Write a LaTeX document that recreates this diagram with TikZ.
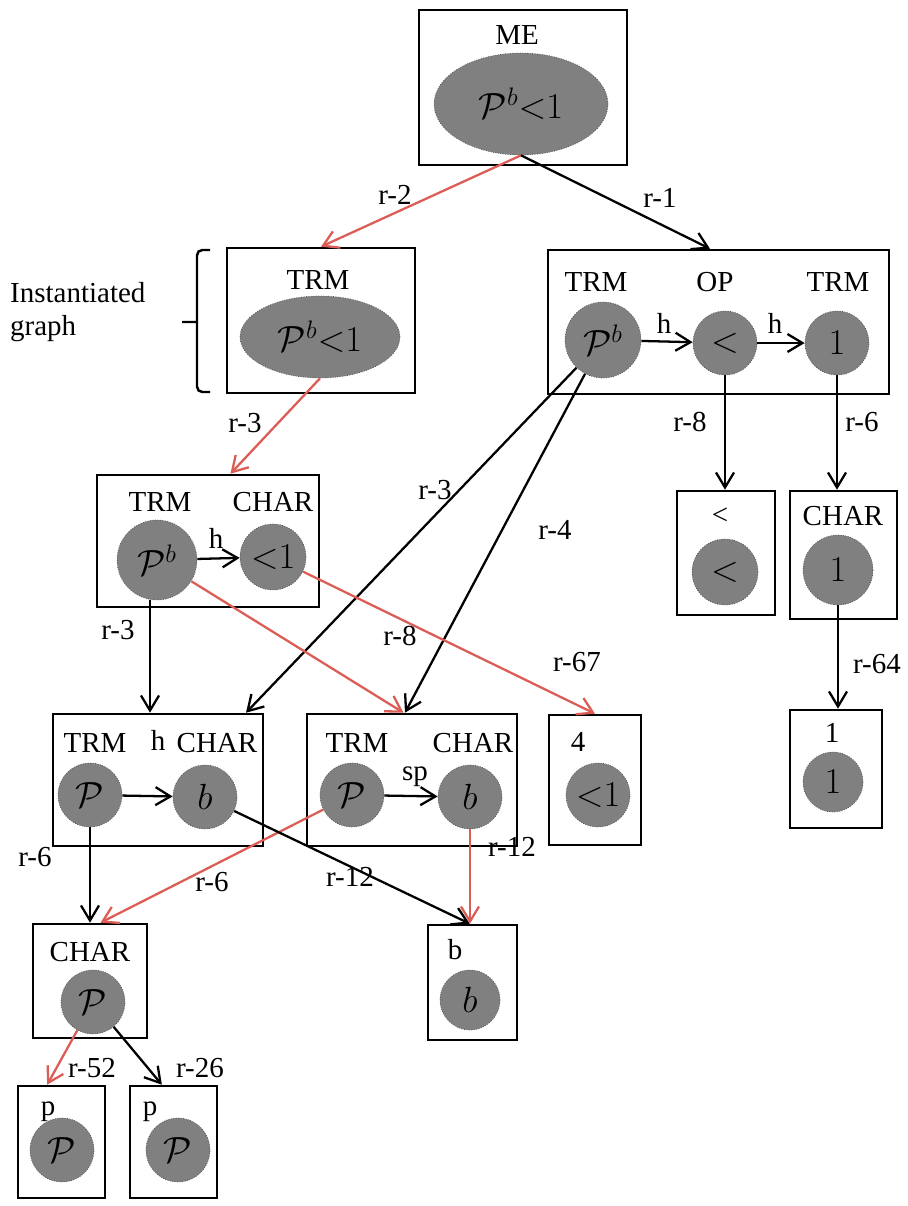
\documentclass[tikz,border=0pt]{standalone}
\usepackage{fontspec}
\setmainfont{Liberation Serif}
\usetikzlibrary{arrows.meta,calc,shapes.geometric}
\definecolor{relred}{RGB}{220,92,86}
\tikzset{
  gbox/.style={draw, line width=1.5pt, inner sep=0pt},
  sym/.style={circle, fill=gray, draw=black!70, densely dotted, inner sep=0pt,
    font=\huge},
  symell/.style={sym, ellipse},
  rel/.style={-{Straight Barb[length=3mm,width=3.6mm]}, line width=1.3pt},
  relr/.style={rel, draw=relred},
  lab/.style={font=\fontsize{16.5}{19}\selectfont}
}
\begin{document}
\begin{tikzpicture}[x=0.02cm, y=-0.02cm, lab]
  \useasboundingbox (0,0) rectangle (908,1206);
  % top level
  \node[gbox, minimum width=4.16cm, minimum height=3.1cm] (me) at (523,87.5) {};
  \node (meL) at (517,35) {ME};
  \node[symell, minimum width=3.48cm, minimum height=2.04cm] (meS) at (521,104)
    {$\mathcal{P}^{b}{<}1$};
  % instantiated graph
  \node[gbox, minimum width=3.76cm, minimum height=2.9cm] (trmI) at (321,320.5) {};
  \node (trmIL) at (318,280) {TRM};
  \node[symell, minimum width=3.2cm, minimum height=1.64cm] (trmIS) at (320,337)
    {$\mathcal{P}^{b}{<}1$};
  \node[align=left, anchor=west] (inst) at (4,312) {Instantiated\\graph};
  \draw[line width=1.4pt, rounded corners=3pt] (210,250) -- (197,250) -- (197,392)
    -- (210,392) (197,322) -- (182,322);
  % right split
  \node[gbox, minimum width=6.82cm, minimum height=2.88cm] (trmR) at (718.5,322) {};
  \node (trmRL1) at (596,282) {TRM};
  \node (trmRL2) at (715,282) {OP};
  \node (trmRL3) at (838,282) {TRM};
  \node[sym, minimum size=1.52cm] (trmRa) at (603,340) {$\mathcal{P}^{b}$};
  \node[sym, minimum size=1.28cm] (op) at (725,343) {$<$};
  \node[sym, minimum size=1.28cm] (trmRb) at (837,343) {$1$};
  \draw[rel] (trmRa) -- (op);
  \draw[rel] (op) -- (trmRb);
  \node (hA) at (664,323) {h};
  \node (hB) at (775,323) {h};
  % level three
  \node[gbox, minimum width=4.44cm, minimum height=2.64cm] (lvl3) at (208,541) {};
  \node (lvl3L1) at (160,502) {TRM};
  \node (lvl3L2) at (273,502) {CHAR};
  \node[sym, minimum size=1.6cm] (lvl3a) at (157,560) {$\mathcal{P}^{b}$};
  \node[sym, minimum size=1.32cm] (lvl3b) at (273,557) {${<}1$};
  \draw[rel] (lvl3a) -- (lvl3b);
  \node (hC) at (216,538) {h};
  \node[gbox, minimum width=1.96cm, minimum height=2.48cm] (ltB) at (726,553) {};
  \node (ltL) at (720,516) {<};
  \node[sym, minimum size=1.32cm] (ltS) at (725,572) {$<$};
  \node[gbox, minimum width=2.14cm, minimum height=2.56cm] (charR) at (843.5,555) {};
  \node (charRL) at (843,516) {CHAR};
  \node[sym, minimum size=1.4cm] (charRS) at (838,570) {$1$};
  % level four
  \node[gbox, minimum width=4.2cm, minimum height=2.64cm] (lvl4a) at (158,780) {};
  \node (lvl4aL1) at (95,743) {TRM};
  \node (lvl4aL2) at (158,740) {h};
  \node (lvl4aL3) at (217,743) {CHAR};
  \node[sym, minimum size=1.28cm] (lvl4aa) at (90,795) {$\mathcal{P}$};
  \node[sym, minimum size=1.28cm] (lvl4ab) at (205,797) {$b$};
  \draw[rel] (lvl4aa) -- (lvl4ab);
  \node[gbox, minimum width=4.2cm, minimum height=2.64cm] (lvl4b) at (412,780) {};
  \node (lvl4bL1) at (357,743) {TRM};
  \node (lvl4bL2) at (473,743) {CHAR};
  \node[sym, minimum size=1.28cm] (lvl4ba) at (352,795) {$\mathcal{P}$};
  \node[sym, minimum size=1.28cm] (lvl4bb) at (470,797) {$b$};
  \draw[rel] (lvl4ba) -- (lvl4bb);
  \node (sp) at (415,777) {sp};
  \node[gbox, minimum width=1.84cm, minimum height=2.6cm] (fourB) at (595,780) {};
  \node (fourL) at (578,742) {4};
  \node[sym, minimum size=1.28cm] (fourS) at (598,795) {${<}1$};
  \node[gbox, minimum width=1.84cm, minimum height=2.36cm] (oneB) at (836,769) {};
  \node (oneL) at (832,733) {1};
  \node[sym, minimum size=1.2cm] (oneS) at (833,782) {$1$};
  % bottom
  \node[gbox, minimum width=2.28cm, minimum height=2.28cm] (charL) at (90,981) {};
  \node (charLL) at (90,952) {CHAR};
  \node[sym, minimum size=1.28cm] (charLS) at (93,1002) {$\mathcal{P}$};
  \node[gbox, minimum width=1.78cm, minimum height=2.3cm] (bB) at (472.5,982.5) {};
  \node (bL) at (455,950) {b};
  \node[sym, minimum size=1.2cm] (bS) at (470,1000) {$b$};
  \node[gbox, minimum width=1.74cm, minimum height=2.24cm] (pA) at (61.5,1142) {};
  \node (pAL) at (48,1112) {p};
  \node[sym, minimum size=1.28cm] (pAS) at (62,1150) {$\mathcal{P}$};
  \node[gbox, minimum width=1.74cm, minimum height=2.24cm] (pB) at (173.5,1142) {};
  \node (pBL) at (150,1112) {p};
  \node[sym, minimum size=1.28cm] (pBS) at (178,1150) {$\mathcal{P}$};
  % relations
  \draw[relr] (meS.south) -- (trmI.north);
  \draw[rel] (meS.south) -- ($(trmR.north west)!0.475!(trmR.north east)$);
  \draw[relr] (trmIS.south) -- ($(lvl3.north west)!0.6!(lvl3.north east)$);
  \draw[rel] (trmRa) -- ($(lvl4a.north west)!0.914!(lvl4a.north east)$);
  \draw[rel] (trmRa) -- ($(lvl4b.north west)!0.467!(lvl4b.north east)$);
  \draw[rel] (op.south) -- (op.south |- ltB.north);
  \draw[rel] (trmRb.south) -- (trmRb.south |- charR.north);
  \draw[rel] (charRS.south) -- (charRS.south |- oneB.north);
  \draw[rel] (lvl3a.260) -- (lvl3a.260 |- lvl4a.north);
  \draw[relr] (lvl3a) -- ($(lvl4b.north west)!0.46!(lvl4b.north east)$);
  \draw[relr] (lvl3b) -- (fourB.north);
  \draw[rel] (lvl4aa.south) -- (lvl4aa.south |- charL.north);
  \draw[relr] (lvl4ba) -- ($(charL.north west)!0.59!(charL.north east)$);
  \draw[rel] (lvl4ab) -- ($(bB.north west)!0.47!(bB.north east)$);
  \draw[relr] (lvl4bb.south) -- (lvl4bb.south |- bB.north);
  \draw[relr] (charLS) -- ($(pA.north west)!0.34!(pA.north east)$);
  \draw[rel] (charLS) -- ($(pB.north west)!0.37!(pB.north east)$);
  % relation labels
  \node (r2) at (395,195) {r-2};
  \node (r1) at (660,198) {r-1};
  \node (r3a) at (245,423) {r-3};
  \node (r3b) at (435,490) {r-3};
  \node (r4) at (555,530) {r-4};
  \node (r8a) at (690,422) {r-8};
  \node (r6a) at (862,422) {r-6};
  \node (r64) at (877,664) {r-64};
  \node (r3c) at (118,630) {r-3};
  \node (r8b) at (400,636) {r-8};
  \node (r67) at (577,662) {r-67};
  \node (r6b) at (35,857) {r-6};
  \node (r6c) at (212,882) {r-6};
  \node (r12a) at (350,877) {r-12};
  \node (r12b) at (512,847) {r-12};
  \node (r52) at (92,1068) {r-52};
  \node (r26) at (200,1068) {r-26};
\end{tikzpicture}
\end{document}
